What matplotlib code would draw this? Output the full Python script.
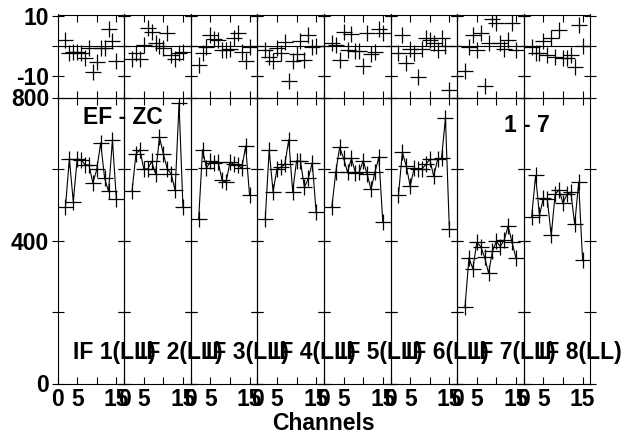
import matplotlib
matplotlib.use("Agg")
import matplotlib.pyplot as plt

plt.rcParams['font.family'] = ['Liberation Sans', 'DejaVu Sans']
plt.rcParams['font.weight'] = 'bold'

channels = list(range(2, 16))

# amplitudes per IF (main panels)
amp_if1 = [493, 628, 509, 628, 626, 612, 611, 561, 599, 673, 574, 538, 680, 515]
amp_if2 = [538, 642, 654, 600, 600, 621, 586, 689, 642, 600, 586, 540, 784, 493]
amp_if3 = [459, 654, 602, 621, 617, 619, 568, 563, 619, 613, 611, 602, 664, 526]
amp_if4 = [459, 652, 537, 600, 605, 613, 682, 537, 623, 621, 549, 574, 617, 479]
amp_if5 = [493, 591, 661, 630, 591, 630, 590, 591, 623, 586, 543, 591, 633, 453]
amp_if6 = [526, 647, 608, 552, 602, 599, 600, 613, 627, 580, 627, 630, 742, 431]
amp_if7 = [215, 351, 321, 395, 383, 353, 309, 370, 398, 383, 402, 440, 395, 351]
amp_if8 = [465, 582, 470, 519, 515, 414, 529, 542, 504, 529, 535, 445, 563, 346]

# residuals per IF (top strip)
res_if1 = [2.0, -2.2, -1.9, -1.9, -2.2, -4.1, -0.8, -8.5, -5.2, -0.8, -0.8, 5.5, 1.8, -4.9]
res_if2 = [-4.4, -2.4, -4.4, 0.3, 5.8, 4.7, 1.1, 0.0, -0.8, 4.4, -3.0, -4.4, -2.4, -2.0]
res_if3 = [-6.3, -2.4, -0.2, 3.6, 2.2, 2.0, -1.3, -1.3, -1.1, 2.5, 4.2, -1.9, -5.0, -0.2]
res_if4 = [-1.3, -3.5, -5.0, -0.8, -2.2, 1.4, -11.6, -4.8, -2.6, 1.8, -4.6, 3.6, -0.2, 0.0]
res_if5 = [1.1, 0.3, -4.6, 4.7, -1.3, 4.0, -1.5, -1.5, -6.6, 4.4, -2.6, -1.9, 5.5, 4.2]
res_if6 = [-2.4, 3.6, -5.7, -1.1, -2.4, -10.1, -1.1, 2.5, 2.0, 1.1, -1.3, 2.5, 0.0, -14.5]
res_if7 = [-8.2, -0.4, 3.6, -1.3, 4.4, -13.2, 0.9, 8.8, 7.7, 1.1, -1.1, 2.0, 7.7, -1.3]
res_if8 = [-0.2, -2.4, -2.4, 1.8, -3.0, 2.5, -3.7, 5.3, -4.1, -4.1, -3.0, -6.8, 6.9, 0.0]

if_labels = ["IF 1(LL)", "IF 2(LL)", "IF 3(LL)", "IF 4(LL)",
             "IF 5(LL)", "IF 6(LL)", "IF 7(LL)", "IF 8(LL)"]

amps = [amp_if1, amp_if2, amp_if3, amp_if4, amp_if5, amp_if6, amp_if7, amp_if8]
resids = [res_if1, res_if2, res_if3, res_if4, res_if5, res_if6, res_if7, res_if8]

W, H = 625, 437
fig = plt.figure(figsize=(W / 100, H / 100), dpi=100)

x0, pw = 57.6, 66.6
main_top, main_bot = 97.5, 383.5
res_top = 14.5

fs = 16.5

for i in range(8):
    left = (x0 + i * pw) / W
    width = pw / W
    ax = fig.add_axes([left, 1 - main_bot / H, width, (main_bot - main_top) / H])
    axr = fig.add_axes([left, 1 - main_top / H, width, (main_top - res_top) / H])
    ax.set_facecolor('none')
    axr.set_facecolor('none')

    ax.plot(channels, amps[i], color='black', lw=0.8, marker='+', ms=11, mew=0.9)
    ax.set_xlim(0, 17)
    ax.set_ylim(0, 800)
    ax.set_yticks([0, 200, 400, 600, 800])
    ax.set_xticks([0, 5, 10, 15])
    ax.set_xticklabels(['0', '5', '', '15'], fontsize=fs, fontweight='bold')
    if i == 0:
        ax.set_yticklabels(['0', '', '400', '', '800'], fontsize=fs, fontweight='bold')
    else:
        ax.set_yticklabels([])
    ax.tick_params(direction='inout', length=8, width=0.8, top=True, right=True, pad=2)
    ax.tick_params(axis='x', direction='in', length=5, pad=3)
    ax.text(4, 87, if_labels[i], fontsize=fs, fontweight='bold', va='center', ha='left',
            clip_on=False, zorder=5)

    axr.plot(channels, resids[i], ls='none', color='black', marker='+', ms=11, mew=0.9)
    axr.axhline(0, color='black', lw=0.8)
    axr.set_xlim(0, 17)
    axr.set_ylim(-17, 10.4)
    axr.set_xticks([0, 5, 10, 15])
    axr.set_xticklabels([])
    axr.set_yticks([-10, 0, 10])
    if i == 0:
        axr.set_yticklabels(['-10', '', '10'], fontsize=fs, fontweight='bold')
    else:
        axr.set_yticklabels([])
    axr.tick_params(direction='inout', length=8, width=0.8, top=True, right=True, pad=2)
    axr.tick_params(axis='x', direction='in', length=5)

    for a in (ax, axr):
        for s in a.spines.values():
            s.set_linewidth(0.8)

fig.text(83 / W, 1 - 118 / H, "EF - ZC", fontsize=fs, fontweight='bold', va='center', ha='left')
fig.text(504 / W, 1 - 125 / H, "1 - 7", fontsize=fs, fontweight='bold', va='center', ha='left')
fig.text(323 / W, 1 - 424 / H, "Channels", fontsize=fs, fontweight='bold', va='center', ha='center')

fig.savefig("out.png", dpi=100)
